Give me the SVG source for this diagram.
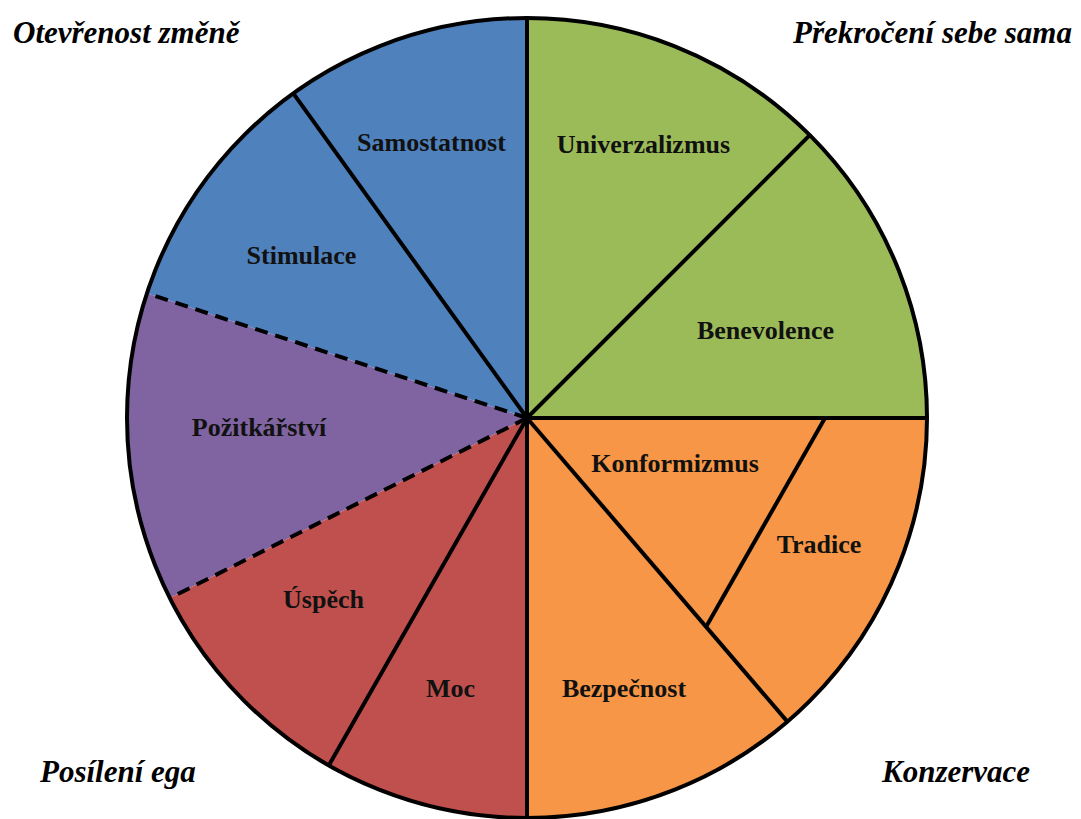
<svg xmlns="http://www.w3.org/2000/svg" width="1081" height="819" viewBox="0 0 1081 819">
<style>
.lbl{font-family:"Liberation Serif","Times New Roman",serif;font-weight:bold;font-size:26px;fill:#111;text-anchor:middle}
.corner{font-family:"Liberation Serif","Times New Roman",serif;font-weight:bold;font-style:italic;font-size:31px;fill:#000}
.ln{stroke:#000;stroke-width:4;fill:none;stroke-linecap:butt}
.dash{stroke:#000;stroke-width:4;fill:none;stroke-dasharray:13 8}
</style>
<rect width="1081" height="819" fill="#fff"/>
<g id="node-samostatnost">
<path d="M527,418 L293.3,93.4 A400,400 0 0 1 527,18 Z" fill="#4F81BD"/>
<text class="lbl" x="431.5" y="151">Samostatnost</text>
</g>
<g id="node-stimulace">
<path d="M527,418 L146.9,293.3 A400,400 0 0 1 293.3,93.4 Z" fill="#4F81BD"/>
<text class="lbl" x="301.5" y="264">Stimulace</text>
</g>
<g id="node-pozitkarstvi">
<path d="M527,418 L169.8,598.1 A400,400 0 0 1 146.9,293.3 Z" fill="#8064A2"/>
<text class="lbl" x="259" y="436">Požitkářství</text>
</g>
<g id="node-uspech">
<path d="M527,418 L328.8,765.4 A400,400 0 0 1 169.8,598.1 Z" fill="#C0504D"/>
<text class="lbl" x="323.5" y="608">Úspěch</text>
</g>
<g id="node-moc">
<path d="M527,418 L527,818 A400,400 0 0 1 328.8,765.4 Z" fill="#C0504D"/>
<text class="lbl" x="450.5" y="697">Moc</text>
</g>
<g id="node-bezpecnost">
<path d="M527,418 L787.4,721.6 A400,400 0 0 1 527,818 Z" fill="#F79646"/>
<text class="lbl" x="624" y="697">Bezpečnost</text>
</g>
<g id="node-konformizmus">
<path d="M527,418 L825,418 L706,627 Z" fill="#F79646"/>
<text class="lbl" x="675" y="472">Konformizmus</text>
</g>
<g id="node-tradice">
<path d="M825,418 L927,418 A400,400 0 0 1 787.4,721.6 L706,627 Z" fill="#F79646"/>
<text class="lbl" x="819" y="553">Tradice</text>
</g>
<g id="node-benevolence">
<path d="M527,418 L809.8,135.2 A400,400 0 0 1 927,418 Z" fill="#9BBB59"/>
<text class="lbl" x="765.5" y="339">Benevolence</text>
</g>
<g id="node-univerzalizmus">
<path d="M527,418 L527,18 A400,400 0 0 1 809.8,135.2 Z" fill="#9BBB59"/>
<text class="lbl" x="643.5" y="153">Univerzalizmus</text>
</g>
<g id="connectors">
<line class="ln" x1="527" y1="418" x2="527" y2="18"/>
<line class="ln" x1="527" y1="418" x2="527" y2="818"/>
<line class="ln" x1="527" y1="418" x2="927" y2="418"/>
<line class="ln" x1="527" y1="418" x2="809.8" y2="135.2"/>
<line class="ln" x1="527" y1="418" x2="293.3" y2="93.4"/>
<line class="ln" x1="527" y1="418" x2="328.8" y2="765.4"/>
<line class="ln" x1="527" y1="418" x2="787.4" y2="721.6"/>
<line class="ln" x1="825" y1="418" x2="706" y2="627"/>
<line class="dash" x1="527" y1="418" x2="146.9" y2="293.3"/>
<line class="dash" x1="527" y1="418" x2="169.8" y2="598.1"/>
<circle class="ln" cx="527" cy="418" r="400"/>
</g>
<g id="group-labels">
<text class="corner" x="13" y="43">Otevřenost změně</text>
<text class="corner" x="1072" y="43" text-anchor="end">Překročení sebe sama</text>
<text class="corner" x="40" y="782">Posílení ega</text>
<text class="corner" x="882" y="782">Konzervace</text>
</g>
</svg>
